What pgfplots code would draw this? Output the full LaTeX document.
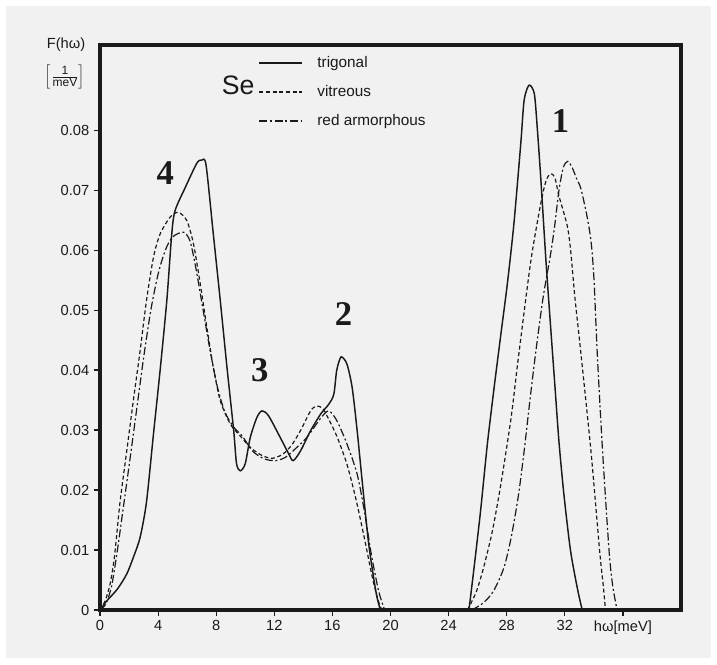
\documentclass[border=0pt]{standalone}
\usepackage{pgfplots}
\pgfplotsset{compat=1.18}
\usepackage{fontspec}
\setmainfont{Liberation Sans}
\newfontfamily\numfont{Liberation Serif}
\definecolor{paper}{HTML}{F1F1F1}
\definecolor{ink}{HTML}{1A1A1A}

\begin{document}
\begin{tikzpicture}
\fill[white] (0pt,0pt) rectangle (537.75pt,498pt);
\fill[paper] (4.5pt,4.5pt) rectangle (533.25pt,493.5pt);
\begin{axis}[
  at={(75pt,40.5pt)}, anchor=south west,
  scale only axis, width=435.75pt, height=423.75pt,
  xmin=0, xmax=40, ymin=0, ymax=0.0942,
  axis line style={line width=2.4pt, ink},
  xtick={0,4,8,12,16,20,24,28,32,36},
  xticklabels={0,4,8,12,16,20,24,28,32,{hω[meV]}},
  ytick={0,0.01,0.02,0.03,0.04,0.05,0.06,0.07,0.08},
  yticklabels={0,0.01,0.02,0.03,0.04,0.05,0.06,0.07,0.08},
  scaled y ticks=false,
  xtick pos=bottom, ytick pos=left,
  tick align=outside, major tick length=4.5pt,
  tick style={line width=0.9pt, ink},
  tick label style={font=\fontsize{11}{13}\selectfont, text=ink},
  /pgf/number format/assume math mode=true,
  clip=false,
  legend style={at={(axis cs:10.9,0.0928)}, anchor=north west, draw=none, fill=none,
    font=\fontsize{11.5}{13}\selectfont, row sep=8pt, column sep=9pt, inner sep=0pt, text=ink},
  legend cell align=left,
  legend image code/.code={\draw[#1] (0pt,0pt) -- (32pt,0pt);},
]
% trigonal: acoustic/bond-bending band
\addplot[ink, line width=1.1pt, smooth, tension=0.45] coordinates {
(0,0) (0.46,0.0015) (1.2,0.0035) (1.84,0.006) (2.3,0.0088) (2.76,0.0121) (3.2,0.018)
(3.68,0.0293) (4.14,0.040) (4.6,0.0516) (4.94,0.0627) (5.17,0.0666) (5.9,0.0706)
(6.67,0.0745) (7.0,0.075) (7.3,0.0742) (7.8,0.0627) (8.28,0.0516) (8.74,0.0405)
(9.2,0.030) (9.4,0.0244) (9.66,0.0232) (10.0,0.0244) (10.34,0.0287) (10.8,0.0321)
(11.15,0.0332) (11.6,0.0324) (12.4,0.0288) (13.0,0.026) (13.3,0.0249) (13.8,0.0265)
(14.5,0.0299) (15.2,0.0327) (15.75,0.0343) (16.1,0.036) (16.3,0.040) (16.6,0.0422)
(17.0,0.041) (17.36,0.0371) (17.7,0.030) (18.05,0.0215) (18.5,0.011) (19.0,0.003) (19.3,0)
};
\addlegendentry{trigonal}
% vitreous
\addplot[ink, line width=0.9pt, dash pattern=on 3pt off 2pt, smooth, tension=0.45] coordinates {
(0,0) (0.35,0.0015) (0.69,0.0043) (1.0,0.009) (1.38,0.018) (1.84,0.0265) (2.3,0.035)
(2.76,0.0432) (3.2,0.0516) (3.68,0.0588) (4.14,0.0627) (4.83,0.0655) (5.4,0.0663)
(5.98,0.0649) (6.44,0.061) (6.9,0.0544) (7.36,0.0471) (7.8,0.0405) (8.28,0.0349)
(8.97,0.031) (9.66,0.029) (10.4,0.027) (11.2,0.0257) (11.9,0.0253) (12.6,0.026)
(13.2,0.0275) (13.8,0.0299) (14.5,0.0332) (14.9,0.034) (15.3,0.0337) (15.6,0.0325)
(16.3,0.029) (17.0,0.0243) (17.6,0.0187) (18.2,0.012) (18.7,0.006) (19.1,0.002) (19.4,0)
};
\addlegendentry{vitreous}
% red amorphous
\addplot[ink, line width=0.9pt, dash pattern=on 6pt off 2pt on 1.5pt off 2pt, smooth, tension=0.45] coordinates {
(0,0) (0.4,0.001) (0.8,0.004) (1.2,0.010) (1.6,0.017) (2.0,0.024) (2.5,0.033) (3.0,0.042)
(3.5,0.050) (4.0,0.056) (4.5,0.060) (5.0,0.0622) (5.75,0.063) (6.2,0.0615) (6.6,0.057)
(7.1,0.050) (7.6,0.043) (8.1,0.037) (8.6,0.033) (9.2,0.0305) (9.8,0.029) (10.5,0.0265)
(11.3,0.0252) (12.1,0.0249) (12.8,0.0255) (13.5,0.027) (14.25,0.0288) (15.2,0.032)
(15.75,0.0332) (16.3,0.0316) (17.0,0.0277) (17.7,0.0227) (18.2,0.0165) (18.7,0.009)
(19.2,0.003) (19.6,0)
};
\addlegendentry{red armorphous}
% stretching band
\addplot[ink, line width=1.1pt, smooth, tension=0.45, forget plot] coordinates {
(25.4,0) (25.75,0.007) (26.2,0.0165) (26.67,0.0277) (27.13,0.037) (27.6,0.046)
(28.05,0.0545) (28.5,0.0645) (28.97,0.0778) (29.2,0.085) (29.54,0.0875) (29.9,0.0861)
(30.1,0.0805) (30.34,0.0722) (30.7,0.0583) (31.0,0.048) (31.3,0.038) (31.6,0.028)
(31.95,0.019) (32.4,0.0098) (32.9,0.0032) (33.2,0)
};
\addplot[ink, line width=0.9pt, dash pattern=on 3pt off 2pt, smooth, tension=0.45, forget plot] coordinates {
(25.3,0) (25.9,0.003) (26.4,0.007) (27.0,0.013) (27.6,0.021) (28.3,0.032) (28.8,0.042)
(29.65,0.058) (30.34,0.0677) (30.7,0.0715) (31.0,0.0727) (31.3,0.0722) (31.6,0.069)
(31.9,0.0665) (32.2,0.0637) (32.4,0.060) (32.7,0.052) (33.1,0.043) (33.8,0.0265)
(34.4,0.0098) (34.65,0.004) (34.8,0)
};
\addplot[ink, line width=0.9pt, dash pattern=on 6pt off 2pt on 1.5pt off 2pt, smooth, tension=0.45, forget plot] coordinates {
(25.6,0) (26.4,0.0012) (27.1,0.0032) (27.8,0.007) (28.3,0.012) (28.8,0.019) (29.2,0.0265)
(29.6,0.035) (30.0,0.043) (30.5,0.052) (31.0,0.059) (31.3,0.064) (31.6,0.070) (31.9,0.0738)
(32.2,0.0748) (32.5,0.0738) (32.8,0.072) (33.1,0.0703) (33.5,0.066) (33.8,0.0616)
(34.0,0.0555) (34.25,0.042) (34.6,0.0265) (35.05,0.0098) (35.3,0.004) (35.6,0)
};
% ordinate label
\node[font=\fontsize{11}{12}\selectfont, text=ink, inner sep=0pt] at ([xshift=-25.5pt,yshift=0.5pt]rel axis cs:0,1) {F(hω)};
\node[font=\fontsize{11}{12}\selectfont, text=ink, inner sep=0pt] at ([xshift=-26.25pt,yshift=-24pt]rel axis cs:0,1)
  {$\left[\frac{\mbox{\fontsize{9}{10}\selectfont 1}}{\mbox{\fontsize{9}{10}\selectfont meV}}\right]$};
% element label
\node[anchor=east, font=\fontsize{20}{22}\selectfont, text=ink, inner sep=1pt] at (axis cs:10.75,0.0874) {Se};
% band labels
\node[font=\numfont\bfseries\fontsize{26}{26}\selectfont, text=ink] at (axis cs:4.5,0.0728) {4};
\node[font=\numfont\bfseries\fontsize{26}{26}\selectfont, text=ink] at (axis cs:11.0,0.0399) {3};
\node[font=\numfont\bfseries\fontsize{26}{26}\selectfont, text=ink] at (axis cs:16.76,0.0494) {2};
\node[font=\numfont\bfseries\fontsize{26}{26}\selectfont, text=ink] at (axis cs:31.7,0.0816) {1};
\end{axis}
\pgfresetboundingbox
\path[use as bounding box] (0pt,0pt) rectangle (537.75pt,498pt);
\end{tikzpicture}
\end{document}
